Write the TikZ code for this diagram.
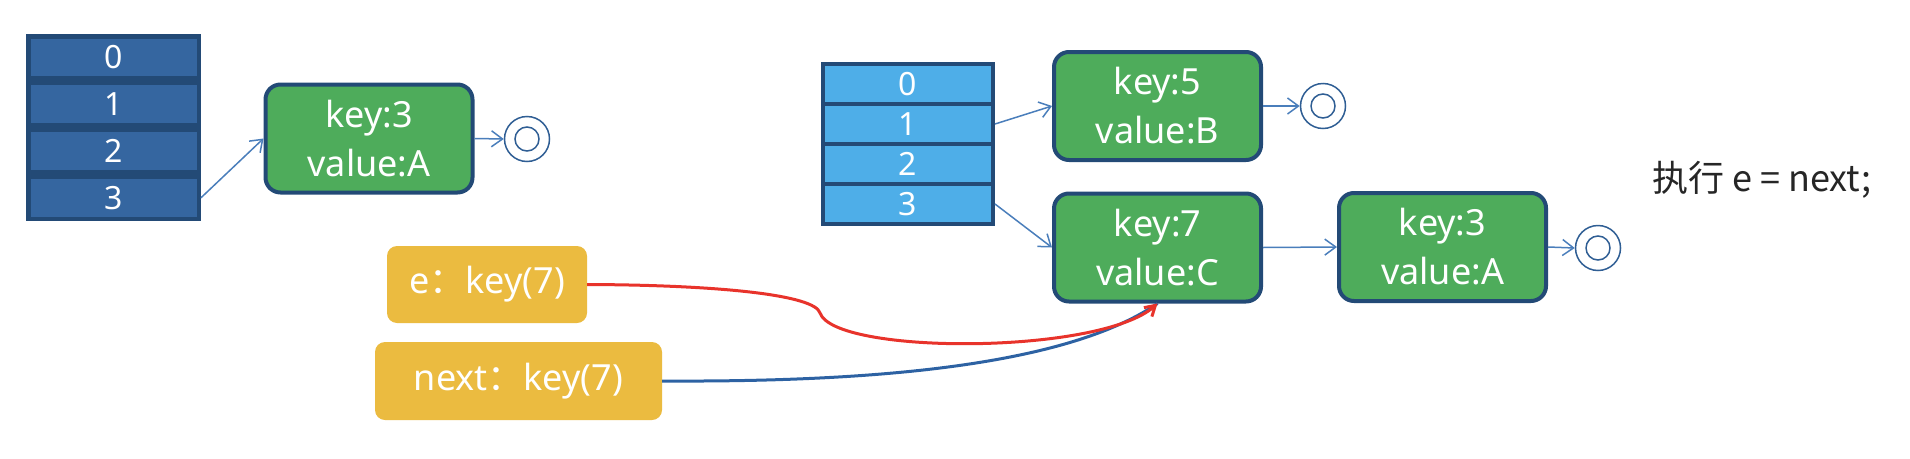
\documentclass[tikz,border=0pt]{standalone}
\usepackage{fontspec}
\setmainfont{Noto Sans}
\newfontfamily\cjk{Noto Sans CJK SC}
\usetikzlibrary{arrows.meta}
\definecolor{darkcell}{HTML}{3566A0}
\definecolor{lightcell}{HTML}{4EAEE8}
\definecolor{navy}{HTML}{234A76}
\definecolor{boxgreen}{HTML}{4EAC5B}
\definecolor{boxyellow}{HTML}{EBBB40}
\definecolor{linkblue}{HTML}{4A7EBB}
\definecolor{circblue}{HTML}{2F5E94}
\definecolor{curvered}{HTML}{E8332B}
\definecolor{curveblue}{HTML}{2D62A3}
\definecolor{labelgray}{HTML}{262626}
\begin{document}
\begin{tikzpicture}[x=1pt,y=-1pt,
  cellL/.style={draw=navy, line width=4.5pt, fill=darkcell, minimum width=170.5pt, minimum height=42.25pt, inner sep=0pt, text=white, font=\fontsize{32}{38}\selectfont},
  cellR/.style={draw=navy, line width=4pt, fill=lightcell, minimum width=170pt, minimum height=40pt, inner sep=0pt, text=white, font=\fontsize{32}{38}\selectfont},
  entry/.style={draw=navy, line width=4pt, fill=boxgreen, rounded corners=15pt, minimum width=207pt, minimum height=108pt, inner sep=0pt, text=white, align=center, font=\fontsize{36}{49}\selectfont},
  var/.style={fill=boxyellow, rounded corners=10pt, inner sep=0pt, text=white, font=\fontsize{36}{43}\selectfont},
  nil/.style={draw=circblue, line width=1.5pt, circle, minimum size=45pt, inner sep=0pt},
  link/.style={draw=linkblue, line width=1.5pt, -{Straight Barb[length=11pt,width=16pt]}},
]
\useasboundingbox (0,0) rectangle (1910,458);
% left table
\node[cellL] (L0) at (113.5,57.5) {0};
\node[cellL] (L1) at (113.5,104.25) {1};
\node[cellL] (L2) at (113.5,151) {2};
\node[cellL] (L3) at (113.5,197.75) {3};
% right table
\node[cellR] (R0) at (908,84) {0};
\node[cellR] (R1) at (908,124) {1};
\node[cellR] (R2) at (908,164) {2};
\node[cellR] (R3) at (908,204) {3};
% entries
\node[entry] (g1) at (369,138.5) {key:3\\value:A};
\node[entry] (g5) at (1157.5,106) {key:5\\value:B};
\node[entry] (g7) at (1157.5,247.5) {key:7\\value:C};
\node[entry] (g3) at (1442.5,247) {key:3\\value:A};
% null markers
\node[nil] (c1) at (527,139) {};
\node[nil] (c2) at (1323,106) {};
\node[nil] (c3) at (1598,248) {};
\foreach \c in {c1,c2,c3} \draw[circblue, line width=1.5pt] (\c.center) circle[radius=12pt];
% links
\draw[link] (L3.east) -- (g1.west);
\draw[link] (g1.east) -- (c1.west);
\draw[link] (R1.east) -- (g5.west);
\draw[link] (R3.east) -- (g7.west);
\draw[link] (g5.east) -- (c2.west);
\draw[link] (g7.east) -- (g3.west);
\draw[link] (g3.east) -- (c3.west);
% variables
\node[var, minimum width=200pt, minimum height=77pt] (e) at (487,284.5) {e{\cjk ：}key(7)};
\node[var, minimum width=287pt, minimum height=78pt] (nx) at (518.5,381) {next{\cjk ：}key(7)};
\coordinate (kink) at (820,313);
\draw[curveblue, line width=3pt] (nx.east) .. controls (850,382) and (1060,370) .. (g7.south);
\draw[curvered, line width=3pt, -{Straight Barb[length=10pt,width=12pt]}] (e.east) .. controls (720,285) and (815,295) .. (kink) .. controls (835,355) and (1100,355) .. (g7.south);
% caption
\node[anchor=west, text=labelgray, font=\cjk\fontsize{36}{43}\selectfont, inner sep=0pt] (cmd) at (1652,180) {执行 e = next;};
\end{tikzpicture}
\end{document}
